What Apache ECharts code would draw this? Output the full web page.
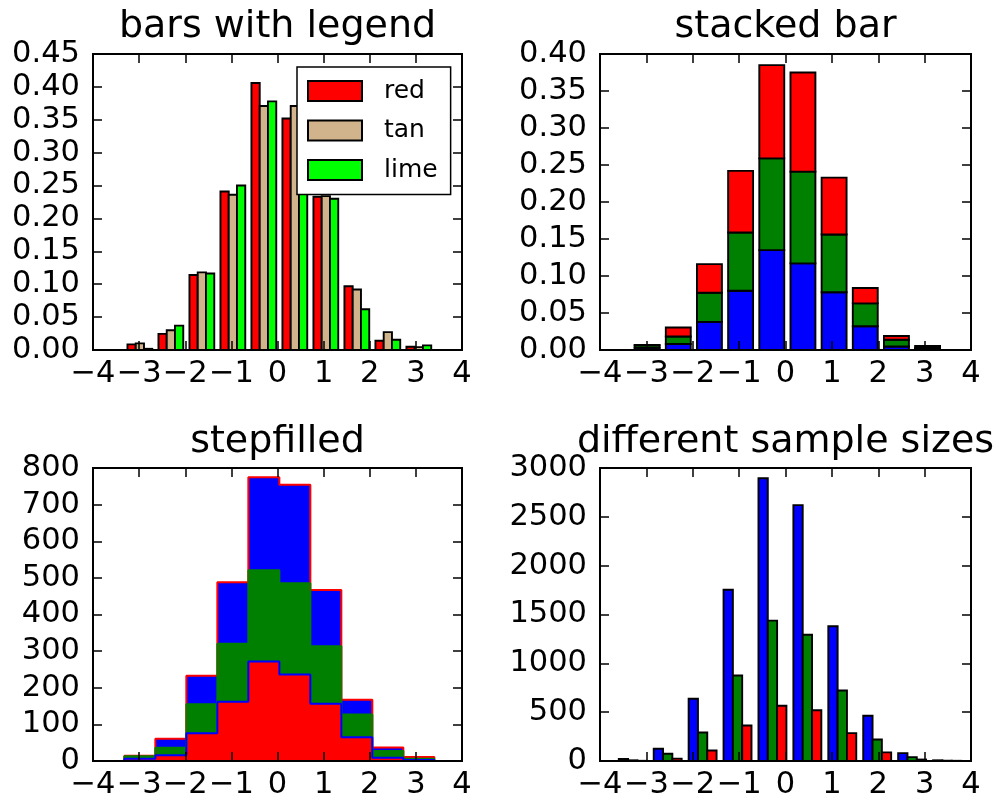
<!DOCTYPE html>
<html>
<head>
<meta charset="utf-8">
<script src="https://cdn.jsdelivr.net/npm/echarts@6/dist/echarts.min.js"></script>
<style>
html,body{margin:0;padding:0;background:#fff;}
#chart{width:999px;height:801px;}
</style>
</head>
<body>
<div id="chart"></div>
<script>
// ---------- data ----------
const panelTitles = ['bars with legend', 'stacked bar', 'stepfilled', 'different sample sizes'];
const xTickValues = [-4, -3, -2, -1, 0, 1, 2, 3, 4];
const legendNames = ['red', 'tan', 'lime'];

// shared bin edges of the 1000x3 sample (top panels + stepfilled)
const binEdges = [-3.32, -2.648, -1.976, -1.304, -0.632, 0.04, 0.712, 1.384, 2.056, 2.728, 3.40];

// top-left: density histograms
const densityRed  = [0.0086, 0.0245, 0.114, 0.241, 0.406, 0.352, 0.233, 0.097, 0.0140, 0.0050];
const densityTan  = [0.0100, 0.0300, 0.118, 0.236, 0.371, 0.371, 0.234, 0.092, 0.0272, 0.0043];
const densityLime = [0.0018, 0.0370, 0.1164, 0.250, 0.378, 0.401, 0.230, 0.062, 0.0155, 0.0071];

// top-right: stacked density layers (bottom to top)
const stackBlue  = [0.0029, 0.0082, 0.0380, 0.0800, 0.135, 0.117, 0.0780, 0.0320, 0.0047, 0.0017];
const stackGreen = [0.0033, 0.0100, 0.0393, 0.0787, 0.124, 0.124, 0.0780, 0.0310, 0.0091, 0.0014];
const stackRed   = [0.0006, 0.0123, 0.0388, 0.0833, 0.126, 0.134, 0.0770, 0.0207, 0.0052, 0.0024];

// bottom-left: stepfilled counts per layer (bottom to top)
const stepLayer1 = [6, 16, 76, 162, 272, 236, 156, 65, 9, 3];
const stepLayer2 = [7, 20, 79, 158, 249, 249, 157, 62, 18, 3];
const stepLayer3 = [1, 25, 78, 168, 254, 269, 154, 40, 10, 5];

// bottom-right: different sample sizes
const sizeEdges = [-3.67, -2.917, -2.164, -1.411, -0.658, 0.095, 0.848, 1.601, 2.354, 3.107, 3.86];
const sample10000 = [20, 125, 637, 1753, 2895, 2620, 1380, 464, 81, 7];
const sample5000  = [7, 75, 292, 875, 1437, 1292, 722, 220, 40, 3];
const sample2000  = [2, 24, 108, 363, 566, 519, 285, 88, 15, 2];

// y axis ranges
const yRanges = [
  {min: 0, max: 0.45, interval: 0.05, dec: 2},
  {min: 0, max: 0.40, interval: 0.05, dec: 2},
  {min: 0, max: 800, interval: 100, dec: 0},
  {min: 0, max: 3000, interval: 500, dec: 0}
];

// ---------- layout ----------
const FONT = 'DejaVu Sans';
const grids = [
  {left: 93, top: 54, width: 369, height: 296},
  {left: 600, top: 54, width: 371, height: 296},
  {left: 93, top: 468, width: 369, height: 296},
  {left: 600, top: 468, width: 371, height: 296}
];
const titleY = [27.5, 27.5, 441.8, 441.8];

const C = {red: '#ff0000', tan: '#d2b48c', lime: '#00ff00', blue: '#0000ff', green: '#008000'};

function fmtX(v) { return v < 0 ? '\u2212' + Math.abs(v) : String(v); }

function groupedBars(edges, values, k, n) {
  return values.map((v, i) => {
    const w = edges[i + 1] - edges[i];
    const c = (edges[i] + edges[i + 1]) / 2;
    const bw = 0.8 * w / n;
    const x0 = c - 0.4 * w + k * bw;
    return [x0, x0 + bw, 0, v];
  });
}
function stackedBars(edges, values, base) {
  return values.map((v, i) => {
    const w = edges[i + 1] - edges[i];
    const c = (edges[i] + edges[i + 1]) / 2;
    return [c - 0.4 * w, c + 0.4 * w, base[i], base[i] + v];
  });
}
function stepPoints(edges, tops) {
  const pts = [[edges[0], 0]];
  tops.forEach((t, i) => pts.push([edges[i], t]));
  pts.push([edges[edges.length - 1], tops[tops.length - 1]]);
  pts.push([edges[edges.length - 1], 0]);
  return pts;
}
function addArr(a, b) { return a.map((v, i) => v + b[i]); }

function barItem(params, api) {
  const a = api.coord([api.value(0), api.value(3)]);
  const b = api.coord([api.value(1), api.value(2)]);
  return {
    type: 'rect',
    shape: {x: a[0], y: a[1], width: b[0] - a[0], height: b[1] - a[1]},
    style: {fill: api.visual('color'), stroke: '#000', lineWidth: 1.9}
  };
}
function barSeries(name, color, data, gi) {
  return {
    type: 'custom', name: name, xAxisIndex: gi * 2, yAxisIndex: gi * 2,
    renderItem: barItem, itemStyle: {color: color},
    encode: {x: [0, 1], y: [2, 3]}, data: data, animation: false, z: 2
  };
}
function stepSeries(name, fill, edge, tops) {
  return {
    type: 'line', name: name, xAxisIndex: 4, yAxisIndex: 4,
    step: 'end', symbol: 'none', showSymbol: false, animation: false,
    lineStyle: {color: edge, width: 2},
    itemStyle: {color: fill},
    areaStyle: {color: fill, opacity: 1},
    data: stepPoints(binEdges, tops), z: 2
  };
}

// ---------- axes ----------
const xAxes = [], yAxes = [];
grids.forEach((g, gi) => {
  const r = yRanges[gi];
  const tick = {show: true, inside: true, length: 9, lineStyle: {color: '#000', width: 1.5}};
  const line = {show: false, onZero: false};
  xAxes.push({
    type: 'value', gridIndex: gi, position: 'bottom', min: -4, max: 4, interval: 1, z: 5,
    axisLine: line, splitLine: {show: false}, axisTick: tick,
    axisLabel: {show: true, margin: 9, color: '#000', fontFamily: FONT, fontSize: 30.5,
      showMinLabel: true, showMaxLabel: true, formatter: fmtX}
  });
  xAxes.push({
    type: 'value', gridIndex: gi, position: 'top', min: -4, max: 4, interval: 1, z: 5,
    axisLine: line, splitLine: {show: false}, axisTick: tick, axisLabel: {show: false}
  });
  yAxes.push({
    type: 'value', gridIndex: gi, position: 'left', min: r.min, max: r.max, interval: r.interval, z: 5,
    axisLine: line, splitLine: {show: false}, axisTick: tick,
    axisLabel: {show: true, margin: 13, color: '#000', fontFamily: FONT, fontSize: 30.5,
      showMinLabel: true, showMaxLabel: true, formatter: v => Number(v).toFixed(r.dec)}
  });
  yAxes.push({
    type: 'value', gridIndex: gi, position: 'right', min: r.min, max: r.max, interval: r.interval, z: 5,
    axisLine: line, splitLine: {show: false}, axisTick: tick, axisLabel: {show: false}
  });
});

// ---------- series ----------
const series = [];
// top-left
series.push(barSeries('red', C.red, groupedBars(binEdges, densityRed, 0, 3), 0));
series.push(barSeries('tan', C.tan, groupedBars(binEdges, densityTan, 1, 3), 0));
series.push(barSeries('lime', C.lime, groupedBars(binEdges, densityLime, 2, 3), 0));
// top-right stacked
const zero = stackBlue.map(() => 0);
const base2 = addArr(zero, stackBlue);
const base3 = addArr(base2, stackGreen);
series.push(barSeries('stack blue', C.blue, stackedBars(binEdges, stackBlue, zero), 1));
series.push(barSeries('stack green', C.green, stackedBars(binEdges, stackGreen, base2), 1));
series.push(barSeries('stack red', C.red, stackedBars(binEdges, stackRed, base3), 1));
// bottom-left stepfilled
const cum1 = stepLayer1.slice();
const cum2 = addArr(cum1, stepLayer2);
const cum3 = addArr(cum2, stepLayer3);
series.push(stepSeries('step total', C.blue, C.red, cum3));
series.push(stepSeries('step middle', C.green, C.green, cum2));
series.push(stepSeries('step bottom', C.red, C.blue, cum1));
// bottom-right
series.push(barSeries('n=10000', C.blue, groupedBars(sizeEdges, sample10000, 0, 3), 3));
series.push(barSeries('n=5000', C.green, groupedBars(sizeEdges, sample5000, 1, 3), 3));
series.push(barSeries('n=2000', C.red, groupedBars(sizeEdges, sample2000, 2, 3), 3));

// ---------- titles ----------
const graphics = panelTitles.map((t, i) => ({
  type: 'text', x: grids[i].left + grids[i].width / 2, y: titleY[i], z: 10,
  style: {text: t, fill: '#000', fontFamily: FONT, fontSize: 38, align: 'center', verticalAlign: 'middle'}
}));

const option = {
  backgroundColor: '#fff',
  animation: false,
  grid: grids.map(g => Object.assign({show: true, borderColor: '#000', borderWidth: 2, backgroundColor: 'transparent', z: 5}, g)),
  xAxis: xAxes,
  yAxis: yAxes,
  legend: {
    show: true, orient: 'vertical', left: 297, top: 67, z: 20,
    padding: [11.5, 13, 12, 10], itemWidth: 54, itemHeight: 20, itemGap: 14.5,
    backgroundColor: '#fff', borderColor: '#000', borderWidth: 1.5, selectedMode: false,
    textStyle: {color: '#000', fontFamily: FONT, fontSize: 25, padding: [0, 0, 0, 17]},
    data: [
      {name: 'red', icon: 'rect', itemStyle: {color: C.red, borderColor: '#000', borderWidth: 2}},
      {name: 'tan', icon: 'rect', itemStyle: {color: C.tan, borderColor: '#000', borderWidth: 2}},
      {name: 'lime', icon: 'rect', itemStyle: {color: C.lime, borderColor: '#000', borderWidth: 2}}
    ]
  },
  graphic: graphics,
  series: series
};

const chart = echarts.init(document.getElementById('chart'));
chart.setOption(option);
</script>
</body>
</html>
